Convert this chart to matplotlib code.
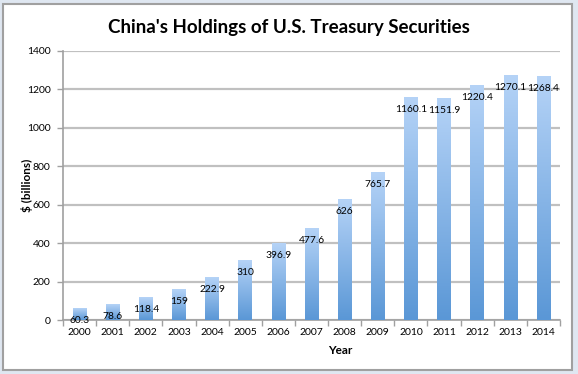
import matplotlib.pyplot as plt
import numpy as np
from matplotlib.patches import Rectangle
from matplotlib.colors import LinearSegmentedColormap

years = ['2000', '2001', '2002', '2003', '2004', '2005', '2006', '2007',
         '2008', '2009', '2010', '2011', '2012', '2013', '2014']
values = [60.3, 78.6, 118.4, 159, 222.9, 310, 396.9, 477.6,
          626, 765.7, 1160.1, 1151.9, 1220.4, 1270.1, 1268.4]
labels = ['60.3', '78.6', '118.4', '159', '222.9', '310', '396.9', '477.6',
          '626', '765.7', '1160.1', '1151.9', '1220.4', '1270.1', '1268.4']

W, H = 578, 374
fig = plt.figure(figsize=(W/100, H/100), dpi=100)
fig.patch.set_facecolor('#dfe7f1')
# chart area (white with grey border)
fig.patches.append(Rectangle((3/W, 1 - 370/H), (572-3)/W, (370-4)/H,
                             transform=fig.transFigure, facecolor='white',
                             edgecolor='#a0a0a0', linewidth=1.5, zorder=-5))

font = 'Lato'
ax = fig.add_axes([63/W, 1 - 320/H, (560-63)/W, (320-51)/H])
ax.set_zorder(2)
ax.set_facecolor('none')

cmap = LinearSegmentedColormap.from_list('g', ['#5a97d6', '#b5d3f7'])
grad = np.linspace(0, 1, 256).reshape(-1, 1)
bw = 0.41
x = np.arange(len(years))
bars = ax.bar(x, values, width=bw, color='none', zorder=3)
for b in bars:
    x0, y0 = b.get_x(), b.get_y()
    w, h = b.get_width(), b.get_height()
    ax.imshow(grad, extent=[x0, x0 + w, y0, y0 + h], origin='lower',
              cmap=cmap, aspect='auto', zorder=3)
ax.set_xlim(-0.5, len(years) - 0.5)
ax.set_ylim(0, 1400)

for xi, v, lab in zip(x, values, labels):
    ax.annotate(lab, (xi, v), xytext=(0, -12 * 0.72), textcoords='offset points',
                ha='center', va='center', fontsize=7.4, family=font,
                color='black', zorder=5)

ax.set_yticks(np.arange(0, 1401, 200))
ax.set_yticklabels([str(t) for t in range(0, 1401, 200)], fontsize=7.5, family=font)
ax.set_xticks(x)
ax.set_xticklabels(years, fontsize=7.5, family=font)
ax.tick_params(axis='x', length=0, pad=6)
ax.set_xticks(np.arange(-0.5, len(years), 1), minor=True)
ax.tick_params(axis='x', which='minor', length=4, color='#a0a0a0', width=1)
ax.tick_params(axis='y', length=4, color='#a0a0a0', width=1, pad=5)
ax.grid(axis='y', color='#c0c0c0', linewidth=1.6, zorder=1)
ax.set_axisbelow(True)
for s in ['top', 'right']:
    ax.spines[s].set_visible(False)
for s in ['left', 'bottom']:
    ax.spines[s].set_color('#a0a0a0')
    ax.spines[s].set_linewidth(1.2)

fig.text(289/W, 1 - 27/H, "China's Holdings of U.S. Treasury Securities",
         ha='center', va='center', fontsize=13.5, fontweight='bold', family=font)
fig.text(27/W, 1 - 185/H, '$ (billions)', ha='center', va='center', rotation=90,
         fontsize=8.5, fontweight='bold', family=font)
fig.text(340/W, 1 - 350/H, 'Year', ha='center', va='center',
         fontsize=8.5, fontweight='bold', family=font)

fig.savefig('out.png', dpi=100, facecolor=fig.get_facecolor())
